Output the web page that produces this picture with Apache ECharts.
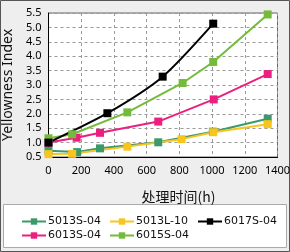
<!DOCTYPE html>
<html>
<head>
<meta charset="utf-8">
<script src="https://cdn.jsdelivr.net/npm/echarts@6/dist/echarts.min.js"></script>
<style>
  html, body { margin: 0; padding: 0; background: #eeeeee; }
  #chart { width: 290px; height: 252px; }
</style>
</head>
<body>
<div id="chart"></div>
<script>
// hours of treatment and yellowness index per sample
const t5013S = [0, 175, 315, 671, 1005, 1340];
const v5013S = [0.72, 0.67, 0.8, 1.01, 1.38, 1.83];
const t5013L = [0, 145, 482, 814, 1007, 1340];
const v5013L = [0.6, 0.61, 0.86, 1.12, 1.36, 1.64];
const t6017S = [0, 360, 698, 1007];
const v6017S = [1.0, 2.02, 3.29, 5.13];
const t6013S = [0, 172, 315, 671, 1010, 1340];
const v6013S = [1.0, 1.17, 1.34, 1.73, 2.5, 3.38];
const t6015S = [0, 145, 482, 820, 1007, 1340];
const v6015S = [1.15, 1.29, 2.05, 3.07, 3.8, 5.45];

const xTicks = [0, 200, 400, 600, 800, 1000, 1200, 1400];
const yTicks = [0.5, 1.0, 1.5, 2.0, 2.5, 3.0, 3.5, 4.0, 4.5, 5.0, 5.5];

const zip = (xs, ys) => xs.map((x, i) => [x, ys[i]]);

const mkSeries = (name, xs, ys, color, smooth) => ({
  name,
  type: "line",
  data: zip(xs, ys),
  symbol: "rect",
  symbolSize: 8,
  smooth: smooth || false,
  lineStyle: { color, width: 2 },
  itemStyle: { color },
  emphasis: { disabled: true }
});

const legendBase = {
  orient: "vertical",
  top: 211,
  itemWidth: 24,
  itemHeight: 8,
  itemGap: 3,
  textStyle: { fontFamily: "DejaVu Sans", fontSize: 11, color: "#111", padding: [0, 0, 0, -3] }
};

const chart = echarts.init(document.getElementById("chart"));
chart.setOption({
  animation: false,
  backgroundColor: "#eeeeee",
  textStyle: { fontFamily: "Noto Sans" },
  graphic: [
    { type: "rect", shape: { x: 0.5, y: 0.5, width: 289, height: 251 }, style: { fill: "none", stroke: "#555", lineWidth: 1 }, z: -1 },
    { type: "rect", shape: { x: 3.5, y: 204.5, width: 283, height: 43 }, style: { fill: "#fff", stroke: "#aaa", lineWidth: 1 }, z: -1 }
  ],
  grid: {
    left: 48.5, right: 12.5, top: 13, bottom: 95,
    containLabel: false,
    outerBoundsMode: "none",
    show: true, backgroundColor: "#fff", borderColor: "#666", borderWidth: 1
  },
  legend: [
    Object.assign({ left: 16, data: ["5013S-04", "6013S-04"] }, legendBase),
    Object.assign({ left: 104, data: ["5013L-10", "6015S-04"] }, legendBase),
    Object.assign({ left: 192, data: ["6017S-04"] }, legendBase)
  ],
  xAxis: {
    type: "value",
    min: xTicks[0],
    max: xTicks[xTicks.length - 1],
    interval: 200,
    name: "处理时间(h)",
    nameLocation: "middle",
    nameGap: 33,
    nameTextStyle: { fontFamily: "Noto Sans CJK SC", fontSize: 14, color: "#111", padding: [0, 0, 0, 31] },
    axisLine: { lineStyle: { color: "#000", width: 1 } },
    axisTick: { show: false },
    axisLabel: { fontSize: 11, color: "#000", margin: 8, formatter: v => String(v) },
    splitLine: { lineStyle: { color: "#999", type: [3, 3], width: 1 } }
  },
  yAxis: {
    type: "value",
    min: yTicks[0],
    max: yTicks[yTicks.length - 1],
    interval: 0.5,
    name: "Yellowness Index",
    nameLocation: "middle",
    nameGap: 30,
    nameTextStyle: { fontFamily: "Noto Sans", fontSize: 14, color: "#111" },
    axisLine: { show: true, lineStyle: { color: "#000", width: 1 } },
    axisTick: { show: false },
    axisLabel: { fontSize: 11, color: "#000", margin: 7, formatter: v => v.toFixed(1) },
    splitLine: { lineStyle: { color: "#999", type: [3, 3], width: 1 } }
  },
  series: [
    mkSeries("5013S-04", t5013S, v5013S, "#3b9a6b"),
    mkSeries("5013L-10", t5013L, v5013L, "#f7c51e"),
    mkSeries("6013S-04", t6013S, v6013S, "#ea1f7f"),
    mkSeries("6015S-04", t6015S, v6015S, "#74bb3c"),
    mkSeries("6017S-04", t6017S, v6017S, "#000000", 0.25)
  ]
});
</script>
</body>
</html>
